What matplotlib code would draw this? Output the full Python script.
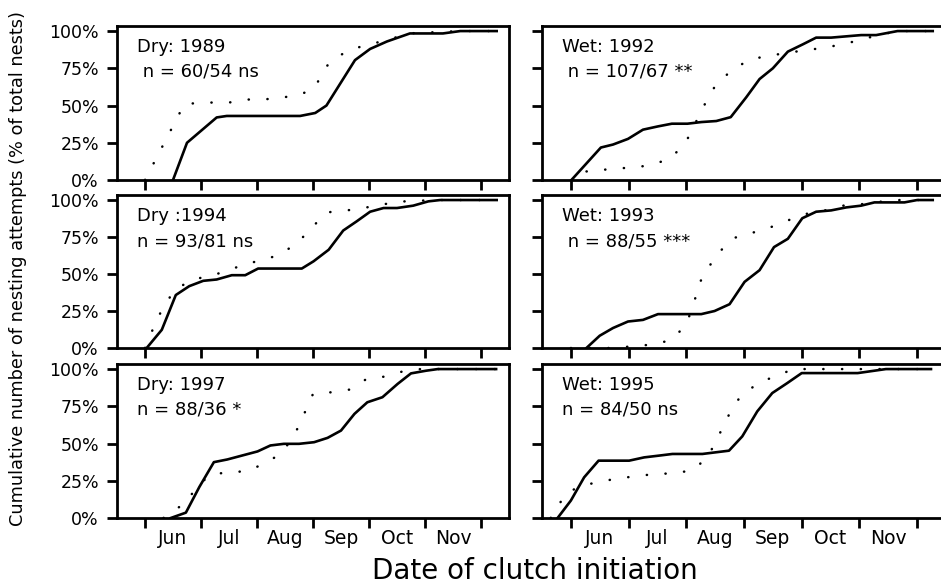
import matplotlib
matplotlib.use('Agg')
import matplotlib.pyplot as plt

plt.rcParams['font.family'] = ['DejaVu Sans']

# x is months after 1 June, y is cumulative % of nests
months = ['Jun', 'Jul', 'Aug', 'Sep', 'Oct', 'Nov']
y_ticks = [0, 25, 50, 75, 100]
y_tick_labels = ['0%', '25%', '50%', '75%', '100%']

# Dry: 1989
x89_solid = [0.5, 0.75, 1.28, 1.46, 2.77, 3.04, 3.24, 3.75, 4.02, 4.32, 4.73, 5.32, 5.63, 6.28]
y89_solid = [0, 25, 42, 43, 43, 45, 50, 80.5, 88, 93, 98.4, 98.4, 100, 100]
x89_dot = [0.0, 0.70, 1.0, 1.5, 1.8, 2.15, 2.48, 2.80, 3.05, 3.17, 3.36, 3.68, 4.0, 4.33, 4.7, 5.6, 6.28]
y89_dot = [0, 50.8, 52, 52, 54, 54.2, 55.5, 57.7, 62.6, 73.2, 81.2, 87.7, 91, 94, 98.4, 100, 100]

# Wet: 1992
x92_solid = [0.01, 0.52, 0.73, 0.99, 1.25, 1.51, 1.75, 2.02, 2.26, 2.52, 2.77, 3.04, 3.27, 3.5,
             3.76, 4.02, 4.25, 4.51, 5.03, 5.29, 5.66, 6.27]
y92_solid = [0, 21.8, 23.8, 27.6, 33.8, 36, 37.8, 37.8, 38.9, 39.6, 42.2, 55.6, 67.8, 75,
             86.2, 91.1, 95.6, 95.6, 97.3, 97.3, 100, 100]
x92_dot = [0.02, 0.12, 0.42, 0.74, 1.06, 1.38, 1.70, 1.96, 2.1, 2.22, 2.36, 2.51, 2.79, 3.11,
           3.43, 3.75, 4.08, 4.39, 4.72, 5.04, 5.4, 5.7, 6.27]
y92_dot = [0, 5.5, 6, 7.8, 8.2, 10, 14, 23.3, 33.3, 43.3, 53.8, 63.8, 73.8, 81.1,
           83.3, 85.5, 87.1, 88.9, 91.1, 94.4, 98, 100, 100]

# Dry :1994
x94_solid = [0.03, 0.30, 0.55, 0.79, 1.04, 1.28, 1.55, 1.79, 2.02, 2.80, 3.01, 3.28, 3.54,
             3.78, 4.02, 4.26, 4.5, 4.79, 5.06, 5.27, 6.28]
y94_solid = [0, 12.3, 35.8, 41.8, 45.4, 46.3, 49.2, 49.2, 53.7, 53.7, 58.6, 66.4, 79.4,
             85.6, 92.1, 94.6, 94.6, 96.2, 99.1, 100, 100]
x94_dot = [0.0, 0.19, 0.33, 0.51, 0.80, 1.13, 1.46, 1.77, 2.09, 2.41, 2.74, 2.98, 3.26,
           3.57, 3.90, 4.21, 4.54, 4.86, 5.2, 6.28]
y94_dot = [0, 17.2, 27.9, 38, 45.8, 48.5, 51.9, 56.6, 59.3, 63.1, 71.6, 81.6, 91.7,
           92.8, 94.6, 96.8, 98.9, 99.5, 100, 100]

# Wet: 1993
x93_solid = [0.27, 0.50, 0.73, 0.99, 1.25, 1.51, 2.26, 2.49, 2.75, 3.01, 3.27, 3.52, 3.76,
             4.01, 4.25, 4.51, 4.77, 5.03, 5.26, 5.78, 6.0, 6.27]
y93_solid = [0, 8.3, 13.5, 17.9, 19, 22.9, 22.9, 25, 29.6, 44.7, 52.6, 68.2, 73.8,
             87.7, 92.1, 93, 95, 96.2, 98.4, 98.4, 100, 100]
x93_dot = [0.0, 0.75, 1.05, 1.37, 1.70, 1.97, 2.08, 2.16, 2.24, 2.39, 2.57, 2.82, 3.14,
           3.46, 3.78, 4.11, 4.43, 4.76, 5.07, 5.39, 5.7, 6.27]
y93_dot = [0, 0, 1.1, 2.2, 4.9, 14, 24.2, 34.2, 44.7, 54.8, 64.8, 74.3, 77.8,
           81.6, 86.5, 91, 93.2, 96.6, 97.3, 99, 100, 100]

# Dry: 1997
x97_solid = [0.46, 0.73, 0.97, 1.23, 1.47, 1.74, 2.01, 2.24, 2.48, 2.75, 3.02, 3.26, 3.5,
             3.74, 3.97, 4.24, 4.51, 4.75, 5.02, 5.23, 6.27]
y97_solid = [0, 3.6, 20.8, 37.5, 39.3, 42, 44.7, 48.7, 49.8, 49.8, 50.9, 53.8, 58.7,
             69.9, 77.7, 81.1, 90, 97.1, 98.9, 100, 100]
x97_dot = [0.33, 0.39, 0.70, 0.92, 1.14, 1.47, 1.80, 2.13, 2.44, 2.62, 2.77, 2.88, 3.0,
           3.32, 3.65, 3.96, 4.27, 4.6, 4.92, 6.27]
y97_dot = [0, 1.8, 9.6, 20.1, 28.6, 30.8, 31.3, 36.4, 43.5, 53.2, 63.2, 73.3, 83.3,
           84.4, 86.2, 93.4, 94.9, 98.4, 100, 100]

# Wet: 1995
x95_solid = [-0.23, 0.0, 0.23, 0.48, 1.01, 1.27, 1.53, 1.76, 2.28, 2.74, 2.97, 3.23, 3.49,
             3.75, 4.0, 4.97, 5.46, 6.24]
y95_solid = [0, 11.7, 27.3, 38.5, 38.5, 40.7, 41.9, 43, 43, 45.2, 54.8, 71.6, 83.9,
             90.6, 97.3, 97.3, 100, 100]
x95_dot = [-0.35, -0.25, -0.09, 0.17, 0.50, 0.83, 1.15, 1.48, 1.80, 2.13, 2.36, 2.51, 2.63,
           2.76, 2.93, 3.22, 3.55, 3.87, 6.24]
y95_dot = [0, 6.3, 16.1, 21.7, 24.2, 26.8, 28, 29.8, 29.8, 32.5, 40.7, 50.8, 60.9,
           70.9, 81.2, 89.9, 95.5, 100, 100]

panels = [
    ('Dry: 1989', ' n = 60/54 ns', x89_solid, y89_solid, x89_dot, y89_dot),
    ('Wet: 1992', ' n = 107/67 **', x92_solid, y92_solid, x92_dot, y92_dot),
    ('Dry :1994', 'n = 93/81 ns', x94_solid, y94_solid, x94_dot, y94_dot),
    ('Wet: 1993', ' n = 88/55 ***', x93_solid, y93_solid, x93_dot, y93_dot),
    ('Dry: 1997', 'n = 88/36 *', x97_solid, y97_solid, x97_dot, y97_dot),
    ('Wet: 1995', 'n = 84/50 ns', x95_solid, y95_solid, x95_dot, y95_dot),
]

W, H = 941, 587
fig = plt.figure(figsize=(W / 100, H / 100), dpi=100)

col_x = [(117, 392), (542, 404)]
row_y = [(26, 154), (195, 153), (364, 154)]

for i, (title, ntext, xs, ys, xd, yd) in enumerate(panels):
    r, c = divmod(i, 2)
    left, width = col_x[c]
    top, height = row_y[r]
    ax = fig.add_axes([left / W, 1 - (top + height) / H, width / W, height / H])
    ax.plot(xs, ys, color='black', lw=1.9, solid_joinstyle='round')
    ax.plot(xd, yd, color='black', lw=1.8, linestyle=(0, (0.1, 7.4)),
            dash_capstyle='round')
    ax.set_xlim(-0.5, 6.5)
    ax.set_ylim(0, 103.4)
    for s in ax.spines.values():
        s.set_linewidth(2.0)
    ax.set_xticks(range(7))
    ax.set_xticks([m + 0.5 for m in range(6)], minor=True)
    ax.tick_params(axis='x', which='major', length=7, width=2.0, labelbottom=False)
    ax.set_yticks(y_ticks)
    ax.tick_params(axis='y', length=7, width=2.0, pad=6, labelsize=12.5)
    if c == 0:
        ax.set_yticklabels(y_tick_labels)
    else:
        ax.set_yticklabels([])
    if r == 2:
        ax.set_xticklabels(months, minor=True)
        ax.tick_params(axis='x', which='minor', length=0, pad=8, labelsize=13.5)
    else:
        ax.tick_params(axis='x', which='minor', length=0, labelbottom=False)
    dx = 20 / width
    ax.text(dx, 1 - 26 / height, title, transform=ax.transAxes, fontsize=13, va='baseline')
    ax.text(dx, 1 - 51 / height, ntext, transform=ax.transAxes, fontsize=13, va='baseline')

fig.text(18 / W, 1 - 269 / H, 'Cumulative number of nesting attempts (% of total nests)',
         rotation=90, ha='center', va='center', fontsize=12.8)
fig.text(535 / W, 2 / H, 'Date of clutch initiation', ha='center', va='bottom',
         fontsize=20)

fig.savefig('out.png', dpi=100)
